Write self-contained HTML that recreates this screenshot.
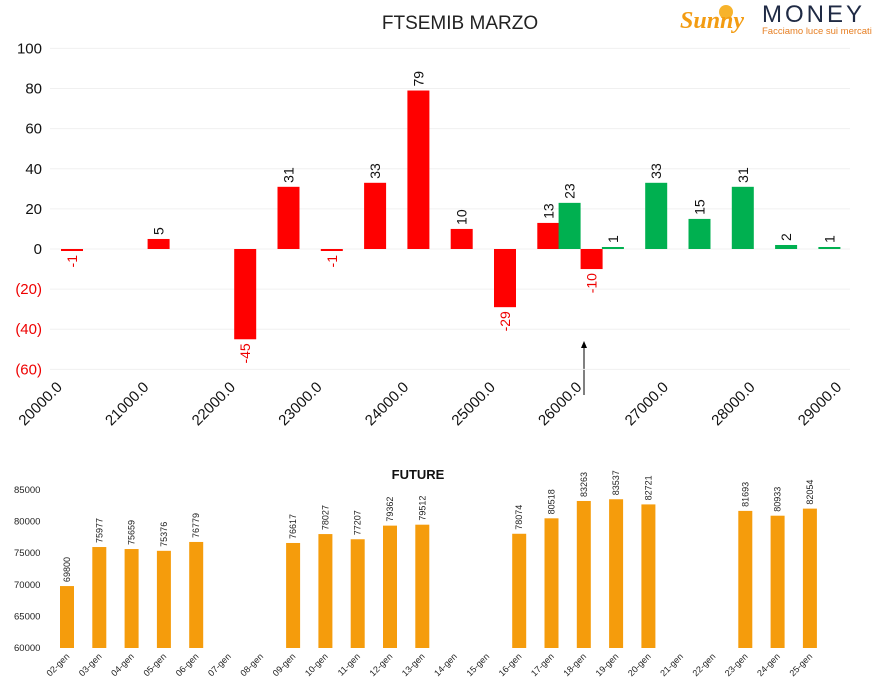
<!DOCTYPE html>
<html><head><meta charset="utf-8"><style>
body{margin:0;background:#fff;width:886px;height:688px;overflow:hidden;font-family:"Liberation Sans",sans-serif}
svg{position:absolute;left:0;top:0}
</style></head><body>
<svg id="c" width="886" height="688">
<text x="460" y="29" font-size="19" text-anchor="middle" fill="#222">FTSEMIB MARZO</text>
<g>
<circle cx="726" cy="12" r="7" fill="#f7b32b"/>
<text x="680" y="28" font-size="24" font-style="italic" font-weight="bold" fill="#f39c12" font-family="Liberation Serif,serif">Sunny</text>
<text x="762" y="22" font-size="24" fill="#1f2a44" letter-spacing="3">MONEY</text>
<text x="762" y="34" font-size="9.5" fill="#e67e22">Facciamo luce sui mercati</text>
</g>
<text x="418" y="479" font-size="13" font-weight="bold" text-anchor="middle" fill="#111">FUTURE</text>
<line x1="584" y1="395" x2="584" y2="346" stroke="#000" stroke-width="1"/>
<polygon points="584,341 581,348 587,348" fill="#000"/>
</svg>
<script>
const cats=[20000,20500,21000,21500,22000,22500,23000,23500,24000,24500,25000,25500,26000,26500,27000,27500,28000,28500,29000];
const redVals=[-1,null,5,null,-45,31,-1,33,79,10,-29,13,-10,null,null,null,null,null,null];
const greenVals=[null,null,null,null,null,null,null,null,null,null,null,null,23,1,33,15,31,2,1];
const yTicks=[100,80,60,40,20,0,-20,-40,-60];
const dates=["02-gen","03-gen","04-gen","05-gen","06-gen","07-gen","08-gen","09-gen","10-gen","11-gen","12-gen","13-gen","14-gen","15-gen","16-gen","17-gen","18-gen","19-gen","20-gen","21-gen","22-gen","23-gen","24-gen","25-gen"];
const futVals=[69800,75977,75659,75376,76779,null,null,76617,78027,77207,79362,79512,null,null,78074,80518,83263,83537,82721,null,null,81693,80933,82054];
const fTicks=[85000,80000,75000,70000,65000,60000];

const svg=document.getElementById('c');const NS='http://www.w3.org/2000/svg';
function mk(t,a,txt){const e=document.createElementNS(NS,t);for(const k in a)e.setAttribute(k,a[k]);if(txt!=null)e.textContent=txt;svg.appendChild(e);return e;}
const y1=v=>249-v*2.006;
const x1=i=>61+i*43.3;
yTicks.forEach(v=>{
 const l=mk('line',{x1:50,x2:850,y1:y1(v),y2:y1(v),stroke:'#f0f0f0'});
 
 
 const t=mk('text',{x:42,y:y1(v)+5,'font-size':15,'text-anchor':'end',fill:v<0?'#e00':'#111'},v<0?'('+(-v)+')':String(v));
 
 
});
cats.forEach((c,i)=>{
 if(i%2)return;
 const x=x1(i)+2,y=388;
 const t=mk('text',{x:x,y:y,'font-size':15,'text-anchor':'end',fill:'#111',transform:`rotate(-45 ${x} ${y})`},c.toFixed(1));
 
 
});
function bar(v,cx,col,name){
 if(v==null)return;
 const top=Math.min(y1(v),y1(0)),h=Math.max(Math.abs(y1(v)-y1(0)),1.5);
 const r=mk('rect',{x:cx-11,y:top,width:22,height:h,fill:col});
 
 
 const ly=v>=0?top-4:top+h+4;
 const t=mk('text',{x:cx+5,y:ly,'font-size':14,'text-anchor':v>=0?'start':'end',fill:v<0?'#e00':'#111',transform:`rotate(-90 ${cx+5} ${ly})`},String(v));
 
 
}
cats.forEach((c,i)=>{bar(redVals[i],x1(i)+11,'#ff0000','bar-red');bar(greenVals[i],x1(i)-11,'#00b050','bar-green');});

const y2=v=>648-(v-60000)*158/25000;
const x2=i=>67+i*32.3;
fTicks.forEach(v=>{
 const t=mk('text',{x:14,y:y2(v)+3,'font-size':9.5,fill:'#222'},String(v));
 
 
});
dates.forEach((d,i)=>{
 const x=x2(i)+3,y=657;
 const t=mk('text',{x:x,y:y,'font-size':9,'text-anchor':'end',fill:'#222',transform:`rotate(-45 ${x} ${y})`},d);
 
 
 const v=futVals[i];if(v==null)return;
 const r=mk('rect',{x:x2(i)-7,y:y2(v),width:14,height:648-y2(v),fill:'#f59c0c'});
 
 
 const lx=x2(i)+3,ly=y2(v)-4;
 const t2=mk('text',{x:lx,y:ly,'font-size':9,fill:'#222',transform:`rotate(-90 ${lx} ${ly})`},String(v));
 
 
});
</script>
</body></html>
